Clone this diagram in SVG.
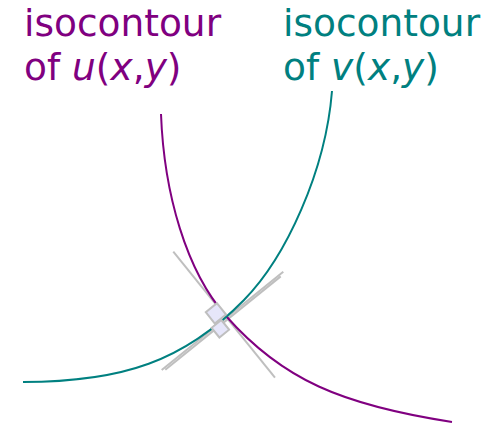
<svg xmlns="http://www.w3.org/2000/svg" width="499" height="423" viewBox="0 0 499 423">
<style>
.lbl{font-family:"DejaVu Sans",sans-serif;font-size:37.5px}
.u{fill:#800080}.v{fill:#008080}
.it{font-style:italic}
.cu{fill:none;stroke:#800080;stroke-width:2}
.cv{fill:none;stroke:#008080;stroke-width:2}
.tg{fill:none;stroke:#bfbfbf;stroke-width:2}
.sq{fill:#e6e6fa;stroke:#bfbfbf;stroke-width:2;stroke-linejoin:miter}
</style>
<rect width="499" height="423" fill="#fff"/>
<g id="label-u">
<text class="lbl u" x="24" y="36">isocontour</text>
<text class="lbl u" x="24" y="80">of <tspan class="it">u</tspan>(<tspan class="it">x</tspan>,<tspan class="it">y</tspan>)</text>
</g>
<g id="label-v">
<text class="lbl v" x="283" y="36">isocontour</text>
<text class="lbl v" x="283" y="80">of <tspan class="it">v</tspan>(<tspan class="it">x</tspan>,<tspan class="it">y</tspan>)</text>
</g>
<g id="connectors">
<line class="tg" x1="173.3" y1="251.7" x2="275" y2="377.7"/>
<line class="tg" x1="161.7" y1="370" x2="283.3" y2="271.7"/>
<line class="tg" x1="165.3" y1="369.7" x2="280.7" y2="276.4"/>
<path class="cu" d="M161,114 C164,194 186.4,271 226,316 C282.1,379.75 342,405 452,422"/>
<path class="cv" d="M332,91 C325.6,171 286,257.2 244,300 C184.5,360.7 123,382 23,382"/>
</g>
<g id="right-angle-1">
<polygon class="sq" points="226,314.5 216.9,303.2 205.8,312.2 214.8,323.5"/>
</g>
<g id="right-angle-2">
<polygon class="sq" points="221.3,320 229.1,329.7 219.4,337.5 211.6,327.8"/>
</g>
</svg>
